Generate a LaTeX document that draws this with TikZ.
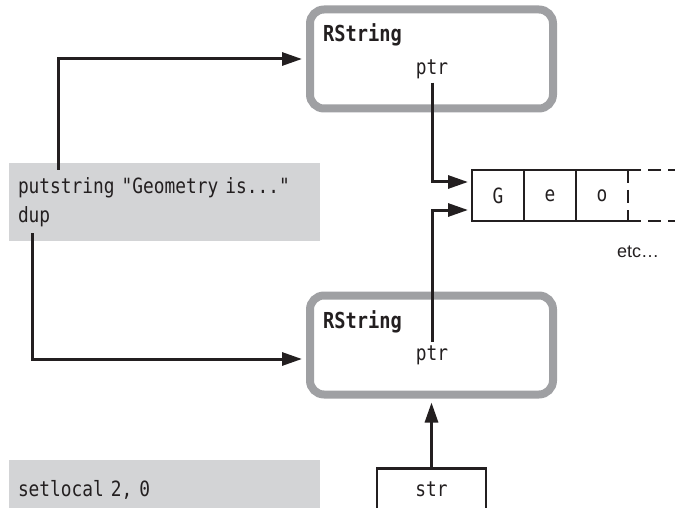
\documentclass[tikz,border=0pt]{standalone}
\usepackage{fontspec}
\usepackage{tikz}
\usetikzlibrary{arrows.meta,positioning}
\newfontfamily\codefont[FakeStretch=0.85]{DejaVu Sans Mono}
\newfontfamily\notefont{Liberation Sans}
\definecolor{inkblack}{HTML}{231F20}
\definecolor{framegrey}{HTML}{9FA0A3}
\definecolor{codegrey}{HTML}{D3D4D6}
\tikzset{
  objbox/.style={
    rectangle, rounded corners=14pt, draw=framegrey, line width=8pt,
    fill=white, minimum width=243pt, minimum height=99pt, inner sep=0pt
  },
  codebox/.style={
    rectangle, fill=codegrey, text width=293pt, inner xsep=9pt,
    align=left, minimum height=78pt, text=inkblack,
    font=\codefont\fontsize{21}{29}\selectfont
  },
  cell/.style={
    rectangle, draw=inkblack, line width=2.5pt, outer sep=0pt,
    minimum width=52pt, minimum height=51pt, text=inkblack,
    font=\codefont\fontsize{21}{25}\selectfont
  },
  fieldlabel/.style={font=\codefont\fontsize{21}{25}\selectfont, text=inkblack, inner sep=3pt},
  typelabel/.style={font=\codefont\bfseries\fontsize{22}{26}\selectfont, text=inkblack, inner sep=0pt},
  ptrarrow/.style={-{Triangle[length=20pt,width=13pt]}, line width=3pt, draw=inkblack, shorten >=4pt},
  cellline/.style={line width=2.5pt, draw=inkblack},
  moreline/.style={cellline, dash pattern=on 13pt off 7pt},
}
\begin{document}
\begin{tikzpicture}[x=1pt, y=-1pt]
  \clip (0,0) rectangle (675,508);

  % the two string objects
  \node[objbox] (top) at (431.5,59) {};
  \node[objbox] (bot) at (431.5,345) {};
  \node[typelabel, anchor=base west] (topname) at (323,42) {RString};
  \node[fieldlabel, anchor=base] (topptr) at (432,75) {ptr};
  \node[typelabel, anchor=base west] (botname) at (323,328) {RString};
  \node[fieldlabel, anchor=base] (botptr) at (432,360) {ptr};

  % instructions
  \node[codebox] (code1) at (164.5,202) {putstring "Geometry is..."\\dup};
  \node[codebox, minimum height=60pt] (code2) at (164.5,490) {setlocal 2, 0};

  % character buffer
  \node[cell] (cg) at (498,195.5) {G};
  \node[cell, right=0pt of cg] (ce) {e};
  \node[cell, draw=none, right=0pt of ce] (co) {o};
  \draw[cellline] (co.north west) -- (co.north east);
  \draw[cellline] (co.south west) -- (co.south east);
  \draw[moreline] (co.north east) -- (co.south east);
  \draw[moreline] (co.north east) -- ++(60,0);
  \draw[moreline] (co.south east) -- ++(60,0);
  \node[font=\notefont\fontsize{18}{22}\selectfont, text=inkblack, anchor=base] (etc) at (638,257) {etc…};

  \node[fieldlabel, draw=inkblack, line width=2.5pt, anchor=north, minimum width=109pt,
        text height=15pt, text depth=30pt, inner ysep=13pt] (str) at (431.5,467) {str};

  \draw[ptrarrow] ([xshift=50pt,yshift=-7pt]code1.north west) |- (top.west);
  \draw[ptrarrow] ([xshift=24pt,yshift=8pt]code1.south west) |- ([yshift=-14pt]bot.west);
  \draw[ptrarrow] (topptr.south) |- ([yshift=13.5pt]cg.west);
  \draw[ptrarrow] (botptr.north) |- ([yshift=-14.5pt]cg.west);
  \draw[ptrarrow] (str.north) -- (bot.south);
\end{tikzpicture}
\end{document}
